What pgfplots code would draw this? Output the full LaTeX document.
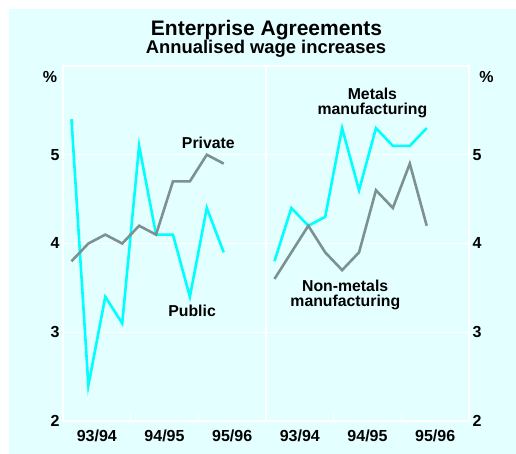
\documentclass[border=0pt]{standalone}
\usepackage{pgfplots}
\pgfplotsset{compat=1.18}
\usepackage{fontspec}
\setmainfont{Liberation Sans}
\definecolor{bg}{RGB}{228,255,255}
\definecolor{cyanl}{RGB}{0,255,255}
\definecolor{grayl}{RGB}{125,145,145}

\pgfplotsset{
  panel/.style={
    scale only axis, width=203pt, height=355pt,
    anchor=south west,
    xmin=0, xmax=12, ymin=2, ymax=6,
    axis line style={white, line width=1.2pt},
    ytick={2,3,4,5},
    ymajorgrids, grid style={white, line width=1.2pt},
    xtick={2,6,10}, xticklabels={93/94,94/95,95/96},
    major tick length=0pt,
    xtick pos=bottom,
    extra x ticks={4,8}, extra x tick labels={},
    extra x tick style={major tick length=9pt, tick align=inside, tick style={white, line width=1.2pt}, grid=none},
    tick label style={font=\bfseries\fontsize{16}{16}\selectfont},
    xticklabel style={yshift=-5pt},
    /pgf/number format/assume math mode=true,
    clip=false,
  },
}
\tikzset{lab/.style={font=\bfseries\fontsize{15.8}{16}\selectfont, anchor=base, inner sep=0pt}}

\begin{document}
\begin{tikzpicture}
\path[use as bounding box] (0pt,0pt) rectangle (516pt,454pt);
\fill[bg] (9pt,0pt) rectangle (516pt,445pt);
\node[font=\bfseries\fontsize{21}{22}\selectfont, anchor=base, inner sep=0pt] at (266.5pt,418.5pt) {Enterprise Agreements};
\node[font=\bfseries\fontsize{18.4}{20}\selectfont, anchor=base, inner sep=0pt] at (266pt,400.5pt) {Annualised wage increases};
\node[font=\bfseries\fontsize{16}{16}\selectfont, inner sep=0pt] at (50pt,377pt) {\%};
\node[font=\bfseries\fontsize{16}{16}\selectfont, inner sep=0pt] at (486.5pt,377pt) {\%};

\begin{axis}[panel, at={(63pt,33pt)}, ytick pos=left, yticklabel pos=left]
\addplot[cyanl, line width=2.6pt] coordinates {
(0.5,5.4) (1.5,2.4) (2.5,3.4) (3.5,3.1) (4.5,5.1) (5.5,4.1) (6.5,4.1) (7.5,3.4) (8.5,4.4) (9.5,3.9)};
\addplot[grayl, line width=2.6pt] coordinates {
(0.5,3.8) (1.5,4.0) (2.5,4.1) (3.5,4.0) (4.5,4.2) (5.5,4.1) (6.5,4.7) (7.5,4.7) (8.5,5.0) (9.5,4.9)};
\node[lab] at (axis cs:8.59,5.065) {Private};
\node[lab] at (axis cs:7.63,3.183) {Public};
\end{axis}

\begin{axis}[panel, at={(266pt,33pt)}, ytick pos=right, yticklabel pos=right]
\addplot[cyanl, line width=2.6pt] coordinates {
(0.5,3.8) (1.5,4.4) (2.5,4.2) (3.5,4.3) (4.5,5.3) (5.5,4.6) (6.5,5.3) (7.5,5.1) (8.5,5.1) (9.5,5.3)};
\addplot[grayl, line width=2.6pt] coordinates {
(0.5,3.6) (1.5,3.9) (2.5,4.2) (3.5,3.9) (4.5,3.7) (5.5,3.9) (6.5,4.6) (7.5,4.4) (8.5,4.9) (9.5,4.2)};
\node[lab] at (axis cs:6.29,5.628) {Metals};
\node[lab] at (axis cs:6.29,5.448) {manufacturing};
\node[lab] at (axis cs:4.68,3.457) {Non-metals};
\node[lab] at (axis cs:4.69,3.288) {manufacturing};
\end{axis}
\end{tikzpicture}
\end{document}
